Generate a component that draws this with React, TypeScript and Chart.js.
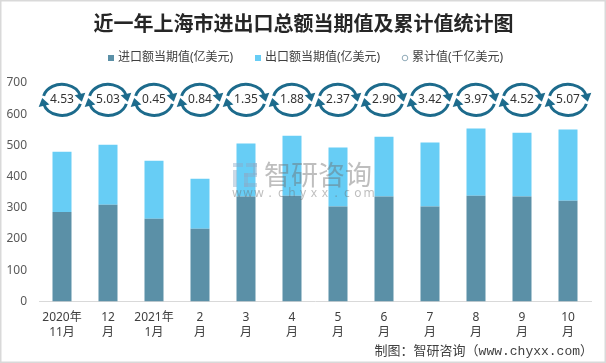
import React, { useEffect, useRef } from 'react';
import { Chart, registerables } from 'chart.js';

Chart.register(...registerables);

const TITLE = '近一年上海市进出口总额当期值及累计值统计图';
const SOURCE = '制图：智研咨询（www.chyxx.com）';

const categories: string[][] = [
  ['2020年', '11月'], ['12', '月'], ['2021年', '1月'], ['2', '月'], ['3', '月'], ['4', '月'],
  ['5', '月'], ['6', '月'], ['7', '月'], ['8', '月'], ['9', '月'], ['10', '月'],
];
const importValues = [287, 310, 265, 233, 336, 339, 304, 336, 304, 339, 336, 323];
const exportValues = [193, 192, 186, 160, 170, 192, 189, 192, 205, 215, 205, 228];
const cumulativeValues = [4.53, 5.03, 0.45, 0.84, 1.35, 1.88, 2.37, 2.9, 3.42, 3.97, 4.52, 5.07];

const seriesNames = ['进口额当期值(亿美元)', '出口额当期值(亿美元)', '累计值(千亿美元)'];
const Y_MAX = 700;
const Y_STEP = 100;
const ICON_LEVEL = 646;

const IMPORT_COLOR = '#5B90A7';
const EXPORT_COLOR = '#67CDF5';
const ICON_COLOR = '#1D6B8C';
const CJK = "'Noto Sans', 'Noto Sans CJK SC', sans-serif";

function drawArrowArc(ctx: CanvasRenderingContext2D, cx: number, cy: number, rx: number, ry: number, a0: number, a1: number) {
  const r = Math.PI / 180;
  ctx.beginPath();
  ctx.ellipse(cx, cy, rx, ry, 0, a0 * r, a1 * r);
  ctx.stroke();
  const t = (a1 + 4) * r;
  const px = cx + rx * Math.cos(t);
  const py = cy + ry * Math.sin(t);
  let dx = -rx * Math.sin(t);
  let dy = ry * Math.cos(t);
  const len = Math.hypot(dx, dy);
  dx /= len; dy /= len;
  const nx = -dy, ny = dx;
  ctx.beginPath();
  ctx.moveTo(px + dx * 5, py + dy * 5);
  ctx.lineTo(px - dx * 3 + nx * 5.5, py - dy * 3 + ny * 5.5);
  ctx.lineTo(px - dx * 3 - nx * 5.5, py - dy * 3 - ny * 5.5);
  ctx.closePath();
  ctx.fill();
}

function drawIcon(ctx: CanvasRenderingContext2D, cx: number, cy: number) {
  ctx.save();
  ctx.strokeStyle = ICON_COLOR;
  ctx.fillStyle = ICON_COLOR;
  ctx.lineWidth = 3;
  ctx.lineCap = 'butt';
  drawArrowArc(ctx, cx, cy, 19, 15.5, 195, 345);
  drawArrowArc(ctx, cx, cy, 19, 15.5, 15, 165);
  ctx.restore();
}

const decorPlugin = {
  id: 'decor',
  afterDatasetsDraw(chart: any) {
    const ctx: CanvasRenderingContext2D = chart.ctx;
    ctx.save();
    // watermark logo
    ctx.fillStyle = 'rgba(140,170,200,0.45)';
    ctx.fillRect(233, 163, 10, 4);
    ctx.fillRect(233, 170, 4, 17);
    ctx.fillRect(246, 163, 11, 4);
    ctx.fillRect(253, 163, 4, 12);
    ctx.fillRect(244, 173, 13, 4);
    ctx.fillRect(244, 173, 4, 14);
    ctx.fillRect(244, 183, 13, 4);
    ctx.fillStyle = 'rgba(110,110,110,0.45)';
    ctx.font = `27px 'Noto Sans CJK SC', sans-serif`;
    ctx.textBaseline = 'middle';
    ctx.textAlign = 'left';
    ctx.fillText('智研咨询', 264, 175);
    ctx.font = `12px 'Noto Sans', sans-serif`;
    ctx.textAlign = 'center';
    const w = 'www.chyxx.com';
    for (let i = 0; i < w.length; i++) {
      ctx.fillText(w[i], 237 + i * 11, 194);
    }
    ctx.restore();
  },
  afterDraw(chart: any) {
    const ctx: CanvasRenderingContext2D = chart.ctx;
    ctx.save();
    // border
    ctx.strokeStyle = '#D9D9D9';
    ctx.lineWidth = 1.5;
    ctx.strokeRect(0.75, 0.75, 604.5, 361.5);
    // title
    ctx.fillStyle = '#262626';
    ctx.font = `bold 20px 'Noto Sans CJK SC', sans-serif`;
    ctx.textAlign = 'center';
    ctx.textBaseline = 'middle';
    ctx.fillText(TITLE, 303.5, 23);
    // legend
    ctx.font = `12px ${CJK}`;
    ctx.textAlign = 'left';
    ctx.fillStyle = IMPORT_COLOR;
    ctx.fillRect(108, 55, 6, 6);
    ctx.fillStyle = '#404040';
    ctx.fillText(seriesNames[0], 118, 58);
    ctx.fillStyle = EXPORT_COLOR;
    ctx.fillRect(255, 55, 6, 6);
    ctx.fillStyle = '#404040';
    ctx.fillText(seriesNames[1], 265, 58);
    ctx.strokeStyle = '#8FAAB8';
    ctx.lineWidth = 1;
    ctx.beginPath();
    ctx.arc(405, 58, 2.8, 0, Math.PI * 2);
    ctx.stroke();
    ctx.fillStyle = '#404040';
    ctx.fillText(seriesNames[2], 412, 58);
    // cumulative icons
    const meta = chart.getDatasetMeta(2);
    const yPix = chart.scales.y.getPixelForValue(ICON_LEVEL);
    ctx.font = `12px ${CJK}`;
    ctx.textAlign = 'center';
    meta.data.forEach((pt: any, i: number) => {
      drawIcon(ctx, pt.x, yPix);
      ctx.fillStyle = '#333333';
      ctx.fillText(cumulativeValues[i].toFixed(2), pt.x, yPix);
    });
    // source
    ctx.font = `13px 'Liberation Mono', 'Noto Sans CJK SC', monospace`;
    ctx.textAlign = 'right';
    ctx.fillStyle = '#404040';
    ctx.fillText(SOURCE, 593, 352);
    ctx.restore();
  },
};

export default function App() {
  const ref = useRef<HTMLCanvasElement | null>(null);
  useEffect(() => {
    document.body.style.margin = '0';
    if (!ref.current) return;
    const chart = new Chart(ref.current, {
      type: 'bar',
      data: {
        labels: categories as any,
        datasets: [
          {
            label: seriesNames[0],
            data: importValues,
            backgroundColor: IMPORT_COLOR,
            barPercentage: 0.413,
            categoryPercentage: 1,
            stack: 's',
          },
          {
            label: seriesNames[1],
            data: exportValues,
            backgroundColor: EXPORT_COLOR,
            barPercentage: 0.413,
            categoryPercentage: 1,
            stack: 's',
          },
          {
            type: 'line',
            label: seriesNames[2],
            data: cumulativeValues,
            yAxisID: 'y2',
            showLine: false,
            pointRadius: 0,
            pointHoverRadius: 0,
          } as any,
        ],
      },
      options: {
        responsive: false,
        animation: false,
        layout: { padding: { left: 0, right: 15, top: 83, bottom: 0 } },
        plugins: {
          legend: { display: false },
          title: { display: false },
          tooltip: { enabled: false },
        },
        scales: {
          x: {
            stacked: true,
            grid: { display: false, drawTicks: false },
            border: { display: true, color: '#D9D9D9', width: 1 },
            ticks: {
              color: '#404040',
              font: { size: 12, family: CJK, lineHeight: 1.25 },
              padding: 9,
              maxRotation: 0,
              autoSkip: false,
            },
            afterFit: (s: any) => { s.height = 61.5; },
          },
          y: {
            stacked: true,
            min: 0,
            max: Y_MAX,
            grid: { display: false, drawTicks: false },
            border: { display: false },
            ticks: {
              stepSize: Y_STEP,
              color: '#595959',
              font: { size: 12, family: CJK },
              padding: 12,
            },
            afterFit: (s: any) => { s.width = 39; },
          },
          y2: { display: false, min: 0, max: 6 },
        },
      } as any,
      plugins: [decorPlugin],
    });
    return () => chart.destroy();
  }, []);
  return (
    <div style={{ width: 606, height: 363 }}>
      <canvas ref={ref} width={606} height={363} style={{ width: 606, height: 363, display: 'block' }} />
    </div>
  );
}
